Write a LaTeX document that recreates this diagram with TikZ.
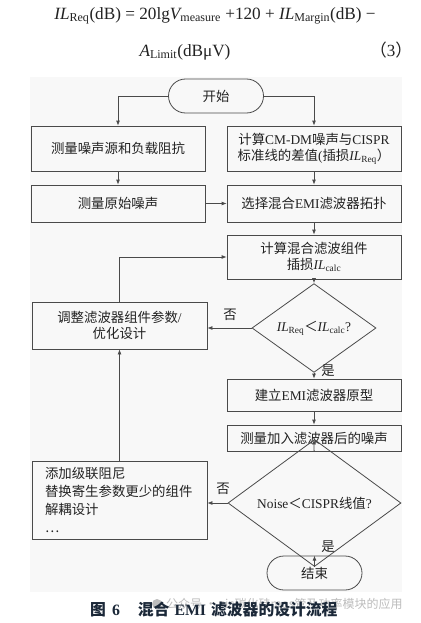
\documentclass[tikz,border=0pt]{standalone}
\usepackage{fontspec}
\setmainfont{Liberation Serif}
\newfontfamily\cjk{Noto Sans CJK SC}
\usetikzlibrary{arrows.meta,shapes.geometric}
\definecolor{ln}{HTML}{4A4A4A}
\definecolor{tx}{HTML}{222222}
\definecolor{bgc}{HTML}{F8F8F8}
\definecolor{capc}{HTML}{1B2838}
\definecolor{wm}{HTML}{BDBDBD}
\newcommand\zh[1]{{\cjk #1}}
\newcommand\IL{{\itshape IL}}
\tikzset{
  boxnode/.style={draw=ln, line width=0.8pt, text=tx, minimum width=174pt, inner sep=2pt, align=center, font=\fontsize{13.4}{16}\selectfont},
  termnode/.style={draw=ln, line width=0.8pt, text=tx, rounded corners=17pt, minimum width=95pt, minimum height=34pt, font=\fontsize{13.4}{16}\selectfont},
  decnode/.style={diamond, draw=ln, line width=0.8pt, text=tx, inner sep=0pt, font=\fontsize{13.4}{16}\selectfont},
  flow/.style={draw=ln, line width=0.8pt, -{Latex[length=5pt,width=4pt]}},
  lbl/.style={text=tx, font=\fontsize{13.4}{16}\selectfont, inner sep=0pt},
}
\begin{document}
\begin{tikzpicture}[x=1pt,y=-1pt]
\fill[white] (0,0) rectangle (420,623);
\useasboundingbox (0,0) rectangle (420,623);
\fill[bgc] (30,77) rectangle (402,592);

% formula
\node[text=tx, font=\fontsize{17.2}{19}\selectfont, inner sep=0pt] (f1) at (215,16)
  {\IL\textsubscript{Req}(dB) = 20lg{\itshape V}\textsubscript{measure} +120 + \IL\textsubscript{Margin}(dB) −};
\node[text=tx, font=\fontsize{17.2}{19}\selectfont, inner sep=0pt] (f2) at (185,52)
  {{\itshape A}\textsubscript{Limit}(dBμV)};
\node[text=tx, font=\fontsize{17}{19}\selectfont, inner sep=0pt] (f3) at (391,50)
  {\zh{（}3\zh{）}};

% nodes
\node[termnode] (start) at (216,96) {\zh{开始}};
\node[boxnode, minimum height=45pt] (L1) at (118,148.5) {\zh{测量噪声源和负载阻抗}};
\node[boxnode, minimum height=45pt] (R1) at (314,148.5)
  {\zh{计算}CM-DM\zh{噪声与}CISPR\\\zh{标准线的差值}(\zh{插损}\IL\textsubscript{Req}\zh{）}};
\node[boxnode, minimum height=37pt] (L2) at (118,203.5) {\zh{测量原始噪声}};
\node[boxnode, minimum height=37pt] (R2) at (314,203.5) {\zh{选择混合}EMI\zh{滤波器拓扑}};
\node[boxnode, minimum height=44pt] (R3) at (314,257) {\zh{计算混合滤波组件}\\\zh{插损}\IL\textsubscript{calc}};
\node[decnode, minimum width=124pt, minimum height=73pt] (D1) at (314,328)
  {\IL\textsubscript{Req}\zh{＜}\IL\textsubscript{calc}?};
\node[boxnode, minimum width=175pt, minimum height=47pt] (Adj) at (119.5,325.5)
  {\zh{调整滤波器组件参数}/\\\zh{优化设计}};
\node[boxnode, minimum height=32pt] (R4) at (314,395) {\zh{建立}EMI\zh{滤波器原型}};
\node[boxnode, minimum height=26pt] (R5) at (314,438) {\zh{测量加入滤波器后的噪声}};
\node[decnode, minimum width=173pt, minimum height=73pt] (D2) at (314.5,503)
  {Noise\zh{＜}CISPR\zh{线值}?};
\node[boxnode, minimum width=175pt, minimum height=78pt, align=left, text width=149pt, inner xsep=13pt,
  font=\fontsize{13.4}{18}\selectfont] (L4) at (119.5,500)
  {\zh{添加级联阻尼}\\\zh{替换寄生参数更少的组件}\\\zh{解耦设计}\\\zh{…}};
\node[termnode] (end) at (314.5,573) {\zh{结束}};

% connectors
\draw[flow] (start.west) -| (L1.north);
\draw[flow] (start.east) -| (R1.north);
\draw[flow] (L1) -- (L2);
\draw[flow] (R1) -- (R2);
\draw[flow] (L2) -- (R2);
\draw[flow] (R2) -- (R3);
\draw[flow] (R3) -- (D1);
\draw[flow] (D1.west) -- (D1.west -| Adj.east);
\draw[flow] (D1) -- (R4);
\draw[flow] (Adj.north) |- (R3.west);
\draw[flow] (R4) -- (R5);
\draw[flow] (R5) -- (D2);
\draw[flow] (D2.west) -- (D2.west -| L4.east);
\draw[flow] (L4) -- (Adj);
\draw[flow] (D2) -- (end);

% labels
\node[lbl] (n1) at (230,315) {\zh{否}};
\node[lbl] (y1) at (328,371) {\zh{是}};
\node[lbl] (n2) at (223,489) {\zh{否}};
\node[lbl] (y2) at (328,547) {\zh{是}};

% watermark
\fill[wm] (157,604) circle (5pt);
\node[text=wm, font=\fontsize{12}{14}\selectfont, inner sep=0pt, anchor=west] (wmk) at (166,604)
  {\zh{公众号 · sic碳化硅mos管及功率模块的应用}};
% caption
\node[text=capc, font=\fontsize{15.8}{17}\selectfont\bfseries, inner sep=0pt, anchor=west] (cap) at (90,610)
  {\zh{图}\hspace{6pt}6\hspace{18pt}\zh{混合}\hspace{5pt}EMI\hspace{5pt}\zh{滤波器的设计流程}};
\end{tikzpicture}
\end{document}
